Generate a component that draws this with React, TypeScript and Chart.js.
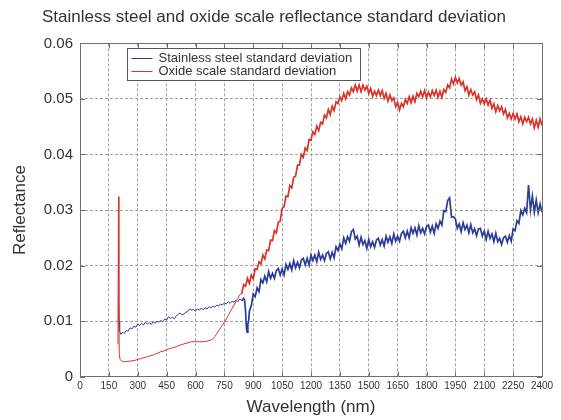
import { useEffect, useRef } from "react";
import { Chart, registerables } from "chart.js";

Chart.register(...registerables);

const TITLE = "Stainless steel and oxide scale reflectance standard deviation";
const X_TITLE = "Wavelength (nm)";
const Y_TITLE = "Reflectance";
const SERIES_NAMES = ["Stainless steel standard deviation", "Oxide scale standard deviation"];
const SERIES_COLORS = ["#2c3d98", "#d8342a"];

const X_TICKS = [0, 150, 300, 450, 600, 750, 900, 1050, 1200, 1350, 1500, 1650, 1800, 1950, 2100, 2250, 2400];
const Y_TICKS = [0, 0.01, 0.02, 0.03, 0.04, 0.05, 0.06];

// [wavelength nm, standard deviation]
const steelPoints: [number, number][] = [
  [200, 0.0138], [203, 0.0100], [206, 0.0082], [212, 0.0076], [220, 0.0080], [230, 0.0078], [240, 0.0083], [250, 0.0082],
  [260, 0.0088], [270, 0.0086], [280, 0.0091], [290, 0.0089], [300, 0.0095], [310, 0.0092], [320, 0.0096], [330, 0.0093],
  [340, 0.0098], [350, 0.0095], [360, 0.0097], [370, 0.0094], [380, 0.0099], [390, 0.0096], [400, 0.0100], [410, 0.0098],
  [420, 0.0101], [430, 0.0099], [440, 0.0104], [450, 0.0102], [460, 0.0108], [470, 0.0105], [480, 0.0107], [490, 0.0104],
  [500, 0.0110], [510, 0.0112], [520, 0.0115], [530, 0.0111], [540, 0.0113], [550, 0.0116], [560, 0.0118], [570, 0.0122],
  [580, 0.0120], [590, 0.0121], [600, 0.0118], [610, 0.0122], [620, 0.0120], [630, 0.0123], [640, 0.0121], [650, 0.0124],
  [660, 0.0122], [670, 0.0126], [680, 0.0124], [690, 0.0127], [700, 0.0125], [710, 0.0129], [720, 0.0127], [730, 0.0131],
  [740, 0.0129], [750, 0.0133], [760, 0.0131], [770, 0.0135], [780, 0.0132], [790, 0.0136], [800, 0.0134], [810, 0.0138],
  [820, 0.0135], [830, 0.0140], [840, 0.0137], [850, 0.0141], [855, 0.0138], [860, 0.0118], [864, 0.0090], [868, 0.0080],
  [872, 0.0095], [876, 0.0100], [880, 0.0118], [890, 0.0128],
  [900, 0.0149], [910, 0.0144], [920, 0.0160], [930, 0.0153], [940, 0.0175], [950, 0.0169], [960, 0.0181], [970, 0.0171],
  [980, 0.0189], [990, 0.0177], [1000, 0.0186], [1010, 0.0177], [1020, 0.0191], [1030, 0.0195], [1040, 0.0183], [1050, 0.0194],
  [1060, 0.0183], [1070, 0.0202], [1080, 0.0193], [1090, 0.0204], [1100, 0.0192], [1110, 0.0209], [1120, 0.0196], [1130, 0.0206],
  [1140, 0.0196], [1150, 0.0210], [1160, 0.0213], [1170, 0.0201], [1180, 0.0213], [1190, 0.0201], [1200, 0.0219], [1210, 0.0209],
  [1220, 0.0219], [1230, 0.0207], [1240, 0.0224], [1250, 0.0211], [1260, 0.0219], [1270, 0.0209], [1280, 0.0222], [1290, 0.0225],
  [1300, 0.0212], [1310, 0.0224], [1320, 0.0214], [1330, 0.0234], [1340, 0.0227], [1350, 0.0239], [1360, 0.0230], [1370, 0.0250],
  [1380, 0.0240], [1390, 0.0252], [1400, 0.0244], [1410, 0.0261], [1420, 0.0265], [1430, 0.0248], [1440, 0.0253], [1450, 0.0237],
  [1460, 0.0251], [1470, 0.0238], [1480, 0.0245], [1490, 0.0231], [1500, 0.0247], [1510, 0.0234], [1520, 0.0243], [1530, 0.0233],
  [1540, 0.0246], [1550, 0.0249], [1560, 0.0237], [1570, 0.0247], [1580, 0.0235], [1590, 0.0253], [1600, 0.0242], [1610, 0.0252],
  [1620, 0.0240], [1630, 0.0257], [1640, 0.0244], [1650, 0.0253], [1660, 0.0244], [1670, 0.0258], [1680, 0.0262], [1690, 0.0250],
  [1700, 0.0262], [1710, 0.0250], [1720, 0.0268], [1730, 0.0258], [1740, 0.0268], [1750, 0.0255], [1760, 0.0272], [1770, 0.0259],
  [1780, 0.0267], [1790, 0.0257], [1800, 0.0270], [1810, 0.0273], [1820, 0.0260], [1830, 0.0271], [1840, 0.0258], [1850, 0.0275],
  [1860, 0.0267], [1870, 0.0280], [1880, 0.0273], [1890, 0.0299], [1900, 0.0297], [1910, 0.0317], [1920, 0.0322], [1930, 0.0287],
  [1940, 0.0288], [1950, 0.0284], [1960, 0.0267], [1970, 0.0275], [1980, 0.0261], [1990, 0.0277], [2000, 0.0265], [2010, 0.0273],
  [2020, 0.0259], [2030, 0.0274], [2040, 0.0259], [2050, 0.0266], [2060, 0.0254], [2070, 0.0266], [2080, 0.0267], [2090, 0.0253],
  [2100, 0.0262], [2110, 0.0247], [2120, 0.0262], [2130, 0.0249], [2140, 0.0257], [2150, 0.0243], [2160, 0.0258], [2170, 0.0243],
  [2180, 0.0249], [2190, 0.0238], [2200, 0.0250], [2210, 0.0253], [2220, 0.0242], [2230, 0.0254], [2240, 0.0244], [2250, 0.0266],
  [2260, 0.0263], [2270, 0.0281], [2280, 0.0276], [2290, 0.0299], [2300, 0.0291], [2310, 0.0303], [2320, 0.0295], [2330, 0.0345],
  [2340, 0.0300], [2350, 0.0325], [2360, 0.0296], [2370, 0.0318], [2380, 0.0295], [2390, 0.0311], [2400, 0.0296],
];

const oxidePoints: [number, number][] = [
  [197, 0.0058], [200, 0.0324], [202, 0.0100], [204, 0.0040], [208, 0.0031], [215, 0.0029], [225, 0.0027], [240, 0.0027],
  [250, 0.0028], [260, 0.0028], [280, 0.0029], [300, 0.0031], [320, 0.0033], [340, 0.0035], [360, 0.0037], [380, 0.0039],
  [400, 0.0042], [420, 0.0045], [440, 0.0047], [460, 0.0050], [480, 0.0052], [500, 0.0054], [520, 0.0057], [540, 0.0059],
  [560, 0.0061], [580, 0.0063], [600, 0.0063], [620, 0.0063], [640, 0.0063], [660, 0.0064], [680, 0.0066], [690, 0.0068],
  [700, 0.0072], [710, 0.0077], [720, 0.0083], [730, 0.0088], [740, 0.0093], [750, 0.0098], [760, 0.0104], [770, 0.0110],
  [780, 0.0117], [790, 0.0123], [800, 0.0129], [810, 0.0135], [820, 0.0141], [830, 0.0148],
  [840, 0.0149], [850, 0.0166], [860, 0.0163], [870, 0.0177], [880, 0.0168], [890, 0.0183], [900, 0.0176], [910, 0.0194],
  [920, 0.0193], [930, 0.0207], [940, 0.0203], [950, 0.0219], [960, 0.0212], [970, 0.0228], [980, 0.0227], [990, 0.0246],
  [1000, 0.0245], [1010, 0.0263], [1020, 0.0259], [1030, 0.0278], [1040, 0.0280], [1050, 0.0303], [1060, 0.0306], [1070, 0.0325],
  [1080, 0.0324], [1090, 0.0344], [1100, 0.0340], [1110, 0.0359], [1120, 0.0361], [1130, 0.0381], [1140, 0.0381], [1150, 0.0400],
  [1160, 0.0395], [1170, 0.0412], [1180, 0.0407], [1190, 0.0427], [1200, 0.0426], [1210, 0.0441], [1220, 0.0436], [1230, 0.0451],
  [1240, 0.0443], [1250, 0.0458], [1260, 0.0455], [1270, 0.0471], [1280, 0.0466], [1290, 0.0481], [1300, 0.0472], [1310, 0.0487],
  [1320, 0.0479], [1330, 0.0495], [1340, 0.0492], [1350, 0.0504], [1360, 0.0497], [1370, 0.0510], [1380, 0.0500], [1390, 0.0513],
  [1400, 0.0507], [1410, 0.0520], [1420, 0.0513], [1430, 0.0525], [1440, 0.0514], [1450, 0.0525], [1460, 0.0513], [1470, 0.0525],
  [1480, 0.0516], [1490, 0.0523], [1500, 0.0510], [1510, 0.0519], [1520, 0.0505], [1530, 0.0514], [1540, 0.0506], [1550, 0.0516],
  [1560, 0.0506], [1570, 0.0515], [1580, 0.0501], [1590, 0.0510], [1600, 0.0496], [1610, 0.0507], [1620, 0.0497], [1630, 0.0502],
  [1640, 0.0486], [1650, 0.0494], [1660, 0.0480], [1670, 0.0492], [1680, 0.0486], [1690, 0.0499], [1700, 0.0492], [1710, 0.0504],
  [1720, 0.0493], [1730, 0.0505], [1740, 0.0495], [1750, 0.0510], [1760, 0.0504], [1770, 0.0514], [1780, 0.0504], [1790, 0.0515],
  [1800, 0.0502], [1810, 0.0512], [1820, 0.0504], [1830, 0.0515], [1840, 0.0506], [1850, 0.0516], [1860, 0.0503], [1870, 0.0514],
  [1880, 0.0503], [1890, 0.0517], [1900, 0.0512], [1910, 0.0525], [1920, 0.0520], [1930, 0.0536], [1940, 0.0527], [1950, 0.0539],
  [1960, 0.0529], [1970, 0.0537], [1980, 0.0525], [1990, 0.0531], [2000, 0.0515], [2010, 0.0522], [2020, 0.0507], [2030, 0.0517],
  [2040, 0.0507], [2050, 0.0513], [2060, 0.0499], [2070, 0.0507], [2080, 0.0492], [2090, 0.0500], [2100, 0.0491], [2110, 0.0500],
  [2120, 0.0489], [2130, 0.0498], [2140, 0.0483], [2150, 0.0491], [2160, 0.0477], [2170, 0.0488], [2180, 0.0479], [2190, 0.0486],
  [2200, 0.0473], [2210, 0.0481], [2220, 0.0466], [2230, 0.0474], [2240, 0.0464], [2250, 0.0474], [2260, 0.0464], [2270, 0.0473],
  [2280, 0.0459], [2290, 0.0468], [2300, 0.0455], [2310, 0.0467], [2320, 0.0459], [2330, 0.0467], [2340, 0.0455], [2350, 0.0464],
  [2360, 0.0448], [2370, 0.0462], [2380, 0.0449], [2390, 0.0464], [2400, 0.0452],
];

const FONT = '"Liberation Sans", Arial, Helvetica, sans-serif';
const TEXT = "#333333";

const frameLegendPlugin = {
  id: "frameLegend",
  afterDatasetsDraw(chart: any) {
    const { ctx, chartArea: a, scales } = chart;
    ctx.save();
    ctx.strokeStyle = "#6f6f6f";
    ctx.lineWidth = 1;
    ctx.setLineDash([]);
    ctx.beginPath();
    for (const v of X_TICKS) {
      const x = Math.round(scales.x.getPixelForValue(v)) + 0.5;
      ctx.moveTo(x, a.bottom);
      ctx.lineTo(x, a.bottom - 5);
      ctx.moveTo(x, a.top);
      ctx.lineTo(x, a.top + 5);
    }
    for (const v of Y_TICKS) {
      const y = Math.round(scales.y.getPixelForValue(v)) + 0.5;
      ctx.moveTo(a.left, y);
      ctx.lineTo(a.left + 5, y);
      ctx.moveTo(a.right, y);
      ctx.lineTo(a.right - 5, y);
    }
    ctx.stroke();
    ctx.strokeRect(Math.round(a.left) + 0.5, Math.round(a.top) + 0.5, Math.round(a.right - a.left), Math.round(a.bottom - a.top));

    const bx = Math.round(a.left + 47) + 0.5;
    const by = Math.round(a.top + 5) + 0.5;
    const bw = 233;
    const bh = 32;
    ctx.fillStyle = "#ffffff";
    ctx.fillRect(bx, by, bw, bh);
    ctx.strokeStyle = "#555555";
    ctx.strokeRect(bx, by, bw, bh);
    ctx.font = `13px ${FONT}`;
    ctx.textBaseline = "middle";
    ctx.textAlign = "left";
    SERIES_NAMES.forEach((name, i) => {
      const y = by + 9 + i * 13.5;
      ctx.strokeStyle = SERIES_COLORS[i];
      ctx.beginPath();
      ctx.moveTo(bx + 4, Math.round(y) + 0.5);
      ctx.lineTo(bx + 25, Math.round(y) + 0.5);
      ctx.stroke();
      ctx.fillStyle = TEXT;
      ctx.fillText(name, bx + 31, y + 0.5);
    });
    ctx.restore();
  },
};

const noisyWidth = (c: any) => (c.p0.parsed.x >= 840 ? 1.7 : 1);

export default function App() {
  const canvasRef = useRef<HTMLCanvasElement | null>(null);

  useEffect(() => {
    document.body.style.margin = "0";
    const canvas = canvasRef.current;
    if (!canvas) return;
    const chart = new Chart(canvas, {
      type: "line",
      data: {
        datasets: [
          {
            label: SERIES_NAMES[1],
            data: oxidePoints.map(([x, y]) => ({ x, y })),
            borderColor: SERIES_COLORS[1],
            borderWidth: 1,
            segment: { borderWidth: noisyWidth },
            pointRadius: 0,
            tension: 0,
            order: 0,
          },
          {
            label: SERIES_NAMES[0],
            data: steelPoints.map(([x, y]) => ({ x, y })),
            borderColor: SERIES_COLORS[0],
            borderWidth: 1,
            segment: { borderWidth: noisyWidth },
            pointRadius: 0,
            tension: 0,
            order: 1,
          },
        ],
      },
      options: {
        animation: false,
        responsive: false,
        devicePixelRatio: 1,
        events: [],
        layout: { padding: { left: 6, right: 19, top: 0, bottom: 0 } },
        plugins: {
          legend: { display: false },
          tooltip: { enabled: false },
          title: {
            display: true,
            text: TITLE,
            color: TEXT,
            font: { family: FONT, size: 17, weight: "normal" },
            padding: { top: 7, bottom: 16 },
          },
        },
        scales: {
          x: {
            type: "linear",
            min: 0,
            max: 2400,
            afterBuildTicks: (s: any) => {
              s.ticks = X_TICKS.map((v) => ({ value: v }));
            },
            afterFit: (s: any) => {
              s.height = 43.3;
            },
            ticks: {
              autoSkip: false,
              maxRotation: 0,
              padding: 4,
              color: TEXT,
              font: { family: FONT, size: 10 },
              callback: (v: any) => String(v),
            },
            grid: { color: "#a0a0a0", drawTicks: false, lineWidth: 1 },
            border: { display: false, dash: [3, 2] },
            title: {
              display: true,
              text: X_TITLE,
              color: TEXT,
              font: { family: FONT, size: 17 },
              padding: { top: 0, bottom: 2 },
            },
          },
          y: {
            type: "linear",
            min: 0,
            max: 0.06,
            afterBuildTicks: (s: any) => {
              s.ticks = Y_TICKS.map((v) => ({ value: v }));
            },
            afterFit: (s: any) => {
              s.width = 74;
            },
            ticks: {
              padding: 7,
              color: TEXT,
              font: { family: FONT, size: 15 },
              callback: (v: any) => (Number(v) === 0 ? "0" : Number(v).toFixed(2)),
            },
            grid: { color: "#a0a0a0", drawTicks: false, lineWidth: 1 },
            border: { display: false, dash: [3, 2] },
            title: {
              display: true,
              text: Y_TITLE,
              color: TEXT,
              font: { family: FONT, size: 17 },
              padding: { top: 4, bottom: 4 },
            },
          },
        },
      },
      plugins: [frameLegendPlugin],
    });
    return () => chart.destroy();
  }, []);

  return <canvas ref={canvasRef} width={561} height={420} style={{ display: "block" }} />;
}
